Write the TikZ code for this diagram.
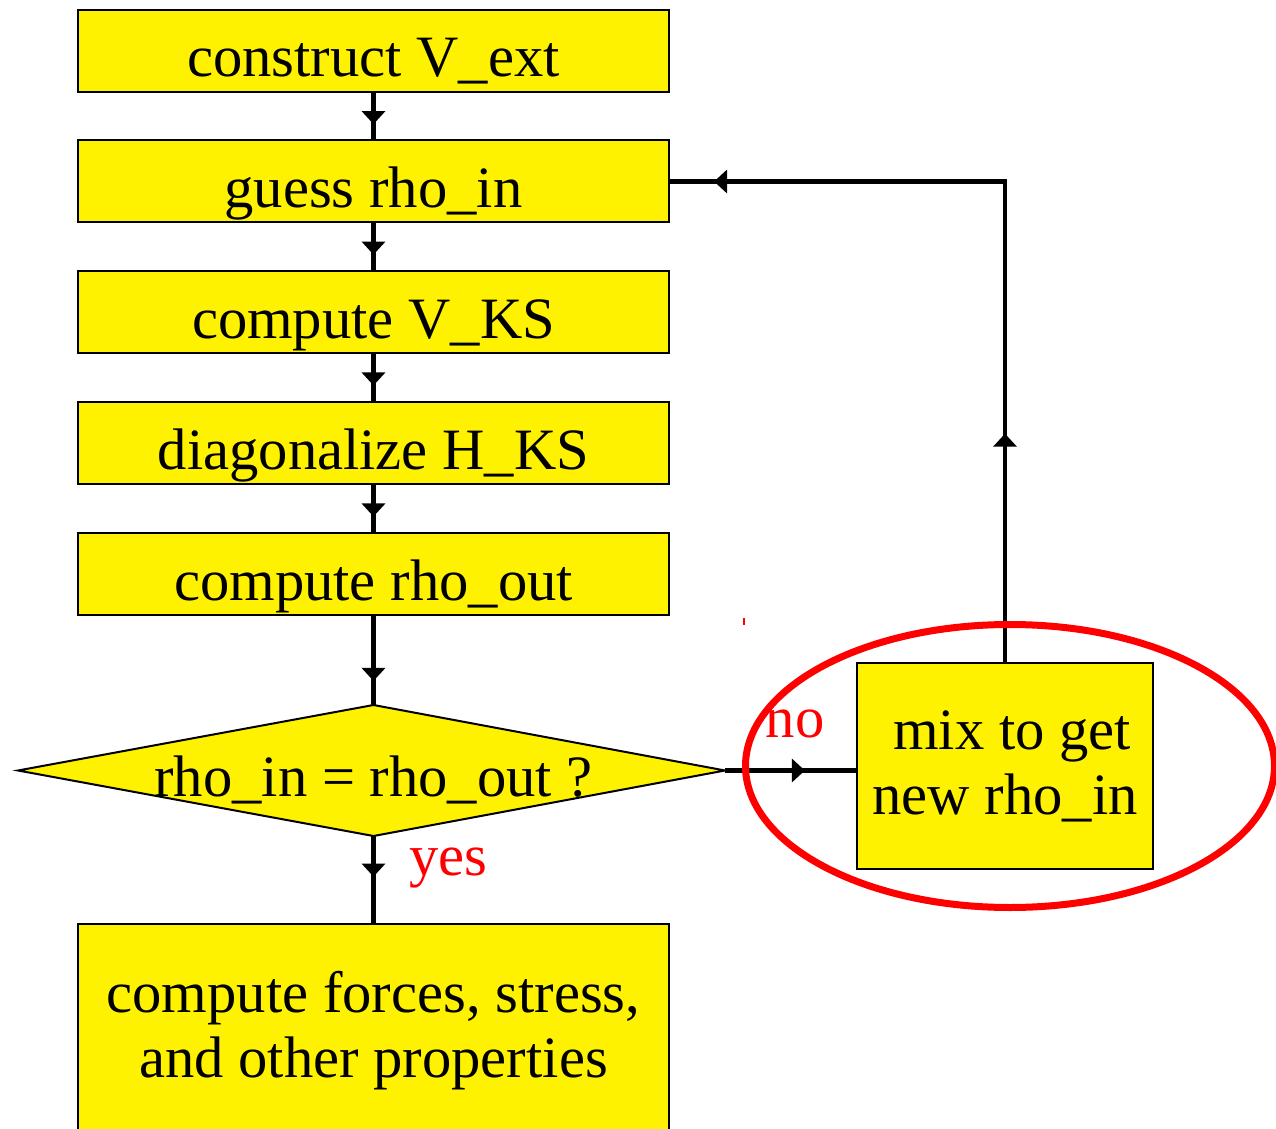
\documentclass[tikz,border=0pt]{standalone}
\usepackage{fontspec}
\setmainfont{Liberation Serif}
\usetikzlibrary{arrows.meta,decorations.markings}
\begin{document}
\begin{tikzpicture}[x=0.5pt,y=-0.5pt,
  every node/.style={font=\fontsize{29.3}{32.5}\selectfont},
  stepbox/.style={draw=black, line width=1pt, fill=yellow, inner sep=0pt,
    minimum width=295.5pt, minimum height=41pt, text height=29pt, text depth=3pt},
  flowtip/.tip={Triangle[length=6.5pt,width=11.5pt]},
  flow/.style={line width=2.2pt, postaction=decorate,
    decoration={markings, mark=at position #1 with {\arrow{flowtip}}}},
  answer/.style={text=red, anchor=base, inner sep=0pt}]
\useasboundingbox (0,0) rectangle (1276,1129);
\clip (0,0) rectangle (1276,1129);

% main sequence of steps
\node[stepbox] (b1) at (373.5,51)   {construct V\_ext};
\node[stepbox] (b2) at (373.5,181.5){guess rho\_in};
\node[stepbox] (b3) at (373.5,312)  {compute V\_KS};
\node[stepbox] (b4) at (373.5,443)  {diagonalize H\_KS};
\node[stepbox] (b5) at (373.5,574)  {compute rho\_out};

% convergence test
\draw[fill=yellow, line width=1pt]
  (18,770.5) coordinate (dl) -- (373.5,705) coordinate (dt) --
  (725,770.5) coordinate (dr) -- (373.5,836) coordinate (db) -- cycle;
\node[inner sep=0pt, text height=29pt, text depth=3pt] (dtext) at (373.5,770.5) {rho\_in = rho\_out ?};

% final step (runs off the lower edge)
\node[draw=black, line width=1pt, fill=yellow, minimum width=295.5pt, minimum height=107.5pt,
      align=center, inner sep=0pt] (b6) at (373.5,1031)
  {compute forces, stress,\\and other properties};

% mixing step
\node[draw=black, line width=1pt, fill=yellow, minimum width=148pt, minimum height=103pt,
      inner sep=0pt] (mix) at (1005,766) {};
\node[align=center, inner sep=0pt] (mixtext) at (1005,766)
  {\hspace*{7pt}mix to get\\new rho\_in};

% connectors
\draw[flow=0.67] (b1.south) -- (b2.north);
\draw[flow=0.67] (b2.south) -- (b3.north);
\draw[flow=0.67] (b3.south) -- (b4.north);
\draw[flow=0.67] (b4.south) -- (b5.north);
\draw[flow=0.73] (b5.south) -- (dt);
\draw[flow=0.47] (db) -- (b6.north);
\draw[flow=0.61] (dr) -- (dr -| mix.west);
\draw[line width=2.2pt, postaction=decorate,
  decoration={markings,
    mark=at position 0.28 with {\arrow{flowtip}},
    mark=at position 0.946 with {\arrow{flowtip}}}]
  (mix.north) |- (b2.east);

% branch labels
\node[answer] (no)  at (795,737) {no};
\node[answer] (yes) at (448.5,875) {yes};

% highlight around the mixing step
\draw[red, line width=3.5pt] (1010,766) ellipse [x radius=264.5, y radius=141.5];
\draw[red, line width=0.6pt] (744,618) -- (744,625);
\end{tikzpicture}
\end{document}
